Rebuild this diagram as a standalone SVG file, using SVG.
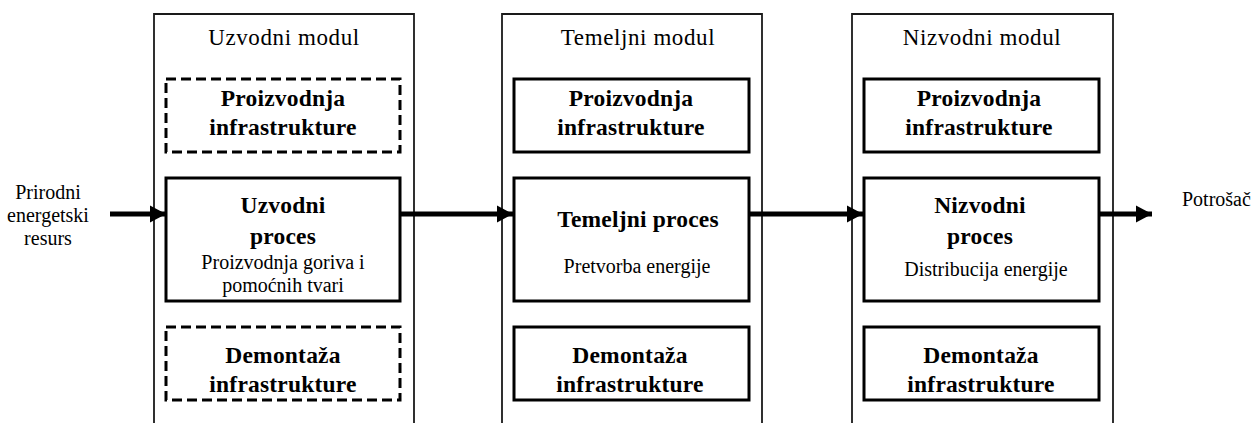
<svg xmlns="http://www.w3.org/2000/svg" width="1251" height="423" viewBox="0 0 1251 423">
<style>
.mod{fill:none;stroke:#1a1a1a;stroke-width:1.8}
.box{fill:#fff;stroke:#000;stroke-width:3}
.dash{fill:#fff;stroke:#000;stroke-width:3;stroke-dasharray:10 5}
.t{font-family:"Liberation Serif","Times New Roman",serif;fill:#000;text-anchor:middle}
.title{font-size:23px;letter-spacing:0.6px}
.b{font-size:23.5px;font-weight:bold;letter-spacing:0.2px}
.r{font-size:20px}
.conn{stroke:#000;stroke-width:5;fill:none}
</style>
<defs>
<marker id="ah" markerWidth="4" markerHeight="4" refX="3.2" refY="2" orient="auto" markerUnits="strokeWidth" viewBox="0 0 4 4">
<path d="M0,0.3 L3.2,2 L0,3.7 Z" fill="#000"/>
</marker>
</defs>
<g id="module-uzvodni">
<path class="mod" d="M154,423 V14 H414 V423"/>
<text class="t title" x="284" y="45">Uzvodni modul</text>
<g id="u-proizvodnja">
<rect class="dash" x="166" y="79" width="234" height="73"/>
<text class="t b" x="283" y="106">Proizvodnja</text>
<text class="t b" x="283" y="135">infrastrukture</text>
</g>
<g id="u-proces">
<rect class="box" x="166" y="178" width="234" height="123"/>
<text class="t b" x="283" y="213">Uzvodni</text>
<text class="t b" x="283" y="244">proces</text>
<text class="t r" x="283" y="269">Proizvodnja goriva i</text>
<text class="t r" x="283" y="292">pomoćnih tvari</text>
</g>
<g id="u-demontaza">
<rect class="dash" x="166" y="327" width="234" height="73"/>
<text class="t b" x="283" y="363">Demontaža</text>
<text class="t b" x="283" y="392">infrastrukture</text>
</g>
</g>
<g id="module-temeljni">
<path class="mod" d="M502,423 V14 H762 V423"/>
<text class="t title" x="638" y="45">Temeljni modul</text>
<g id="t-proizvodnja">
<rect class="box" x="514" y="79" width="235" height="73"/>
<text class="t b" x="631" y="106">Proizvodnja</text>
<text class="t b" x="631" y="135">infrastrukture</text>
</g>
<g id="t-proces">
<rect class="box" x="514" y="178" width="235" height="123"/>
<text class="t b" x="638" y="227">Temeljni  proces</text>
<text class="t r" x="637" y="273">Pretvorba energije</text>
</g>
<g id="t-demontaza">
<rect class="box" x="514" y="327" width="235" height="73"/>
<text class="t b" x="630" y="363">Demontaža</text>
<text class="t b" x="630" y="392">infrastrukture</text>
</g>
</g>
<g id="module-nizvodni">
<path class="mod" d="M852,423 V14 H1113 V423"/>
<text class="t title" x="982" y="45">Nizvodni modul</text>
<g id="n-proizvodnja">
<rect class="box" x="864" y="79" width="235" height="73"/>
<text class="t b" x="979" y="106">Proizvodnja</text>
<text class="t b" x="979" y="135">infrastrukture</text>
</g>
<g id="n-proces">
<rect class="box" x="864" y="178" width="235" height="123"/>
<text class="t b" x="980" y="213">Nizvodni</text>
<text class="t b" x="980" y="244">proces</text>
<text class="t r" x="986" y="276">Distribucija energije</text>
</g>
<g id="n-demontaza">
<rect class="box" x="864" y="327" width="235" height="73"/>
<text class="t b" x="981" y="363">Demontaža</text>
<text class="t b" x="981" y="392">infrastrukture</text>
</g>
</g>
<g id="label-resurs">
<text class="t r" x="48" y="199">Prirodni</text>
<text class="t r" x="48" y="222">energetski</text>
<text class="t r" x="48" y="245">resurs</text>
</g>
<g id="label-potrosac">
<text class="t r" x="1182" y="206" style="text-anchor:start">Potrošač</text>
</g>
<g id="connectors">
<line class="conn" x1="110" y1="214" x2="166" y2="214" marker-end="url(#ah)"/>
<line class="conn" x1="400" y1="214" x2="513" y2="214" marker-end="url(#ah)"/>
<line class="conn" x1="749" y1="214" x2="863" y2="214" marker-end="url(#ah)"/>
<line class="conn" x1="1099" y1="214" x2="1152" y2="214" marker-end="url(#ah)"/>
</g>
</svg>
